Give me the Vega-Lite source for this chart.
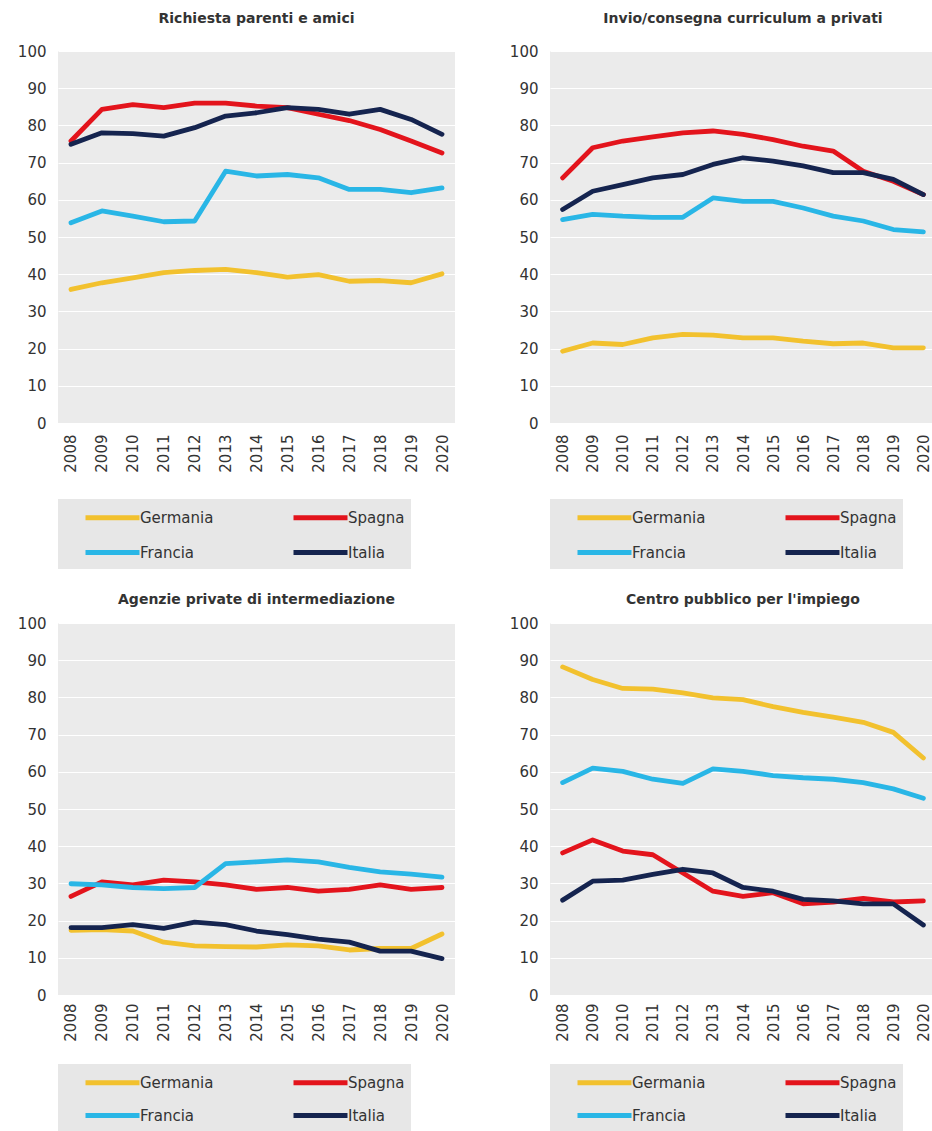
{
  "$schema": "https://vega.github.io/schema/vega-lite/v6.json",
  "background": "white",
  "padding": {"left": 17, "top": 12, "right": 0, "bottom": 0},
  "config": {
    "font": "DejaVu Sans",
    "view": {"fill": "#ebebeb", "stroke": null},
    "title": {"fontSize": 14, "fontWeight": "bold", "color": "#333333", "offset": 18, "font": "DejaVu Sans"},
    "axis": {"domain": false, "ticks": false, "gridColor": "#ffffff", "gridWidth": 1.2, "gridOpacity": 1, "labelColor": "#333333", "labelFont": "DejaVu Sans", "labelFontSize": 15},
    "legend": {
      "orient": "bottom", "direction": "horizontal", "columns": 2, "fillColor": "#e7e7e7", "padding": 6,
      "symbolType": "M-2.7,0H2.7", "symbolStrokeWidth": 5, "symbolSize": 400, "symbolOffset": 36,
      "labelFontSize": 15, "labelColor": "#333333", "labelOffset": 15, "columnPadding": 58, "rowPadding": 12,
      "offset": 26, "title": null, "labelFont": "DejaVu Sans", "labelLimit": 400,
      "labelExpr": "(datum.label === 'Spagna' || datum.label === 'Italia') ? datum.label + '\u00a0\u00a0\u00a0\u00a0\u00a0\u00a0\u00a0\u00a0\u00a0\u00a0\u200b' : datum.label"
    }
  },
  "spacing": 24,
  "datasets": {
    "d": [
      {"p": "A", "anno": "2008", "paese": "Germania", "v": 35.9},
      {"p": "A", "anno": "2009", "paese": "Germania", "v": 37.7},
      {"p": "A", "anno": "2010", "paese": "Germania", "v": 39.0},
      {"p": "A", "anno": "2011", "paese": "Germania", "v": 40.4},
      {"p": "A", "anno": "2012", "paese": "Germania", "v": 41.0},
      {"p": "A", "anno": "2013", "paese": "Germania", "v": 41.3},
      {"p": "A", "anno": "2014", "paese": "Germania", "v": 40.4},
      {"p": "A", "anno": "2015", "paese": "Germania", "v": 39.2},
      {"p": "A", "anno": "2016", "paese": "Germania", "v": 39.9},
      {"p": "A", "anno": "2017", "paese": "Germania", "v": 38.1},
      {"p": "A", "anno": "2018", "paese": "Germania", "v": 38.3},
      {"p": "A", "anno": "2019", "paese": "Germania", "v": 37.7},
      {"p": "A", "anno": "2020", "paese": "Germania", "v": 40.1},
      {"p": "A", "anno": "2008", "paese": "Spagna", "v": 75.8},
      {"p": "A", "anno": "2009", "paese": "Spagna", "v": 84.3},
      {"p": "A", "anno": "2010", "paese": "Spagna", "v": 85.6},
      {"p": "A", "anno": "2011", "paese": "Spagna", "v": 84.8},
      {"p": "A", "anno": "2012", "paese": "Spagna", "v": 86.0},
      {"p": "A", "anno": "2013", "paese": "Spagna", "v": 86.0},
      {"p": "A", "anno": "2014", "paese": "Spagna", "v": 85.2},
      {"p": "A", "anno": "2015", "paese": "Spagna", "v": 84.8},
      {"p": "A", "anno": "2016", "paese": "Spagna", "v": 83.0},
      {"p": "A", "anno": "2017", "paese": "Spagna", "v": 81.3},
      {"p": "A", "anno": "2018", "paese": "Spagna", "v": 78.9},
      {"p": "A", "anno": "2019", "paese": "Spagna", "v": 75.8},
      {"p": "A", "anno": "2020", "paese": "Spagna", "v": 72.6},
      {"p": "A", "anno": "2008", "paese": "Francia", "v": 53.8},
      {"p": "A", "anno": "2009", "paese": "Francia", "v": 57.0},
      {"p": "A", "anno": "2010", "paese": "Francia", "v": 55.6},
      {"p": "A", "anno": "2011", "paese": "Francia", "v": 54.1},
      {"p": "A", "anno": "2012", "paese": "Francia", "v": 54.3},
      {"p": "A", "anno": "2013", "paese": "Francia", "v": 67.7},
      {"p": "A", "anno": "2014", "paese": "Francia", "v": 66.4},
      {"p": "A", "anno": "2015", "paese": "Francia", "v": 66.8},
      {"p": "A", "anno": "2016", "paese": "Francia", "v": 65.9},
      {"p": "A", "anno": "2017", "paese": "Francia", "v": 62.8},
      {"p": "A", "anno": "2018", "paese": "Francia", "v": 62.8},
      {"p": "A", "anno": "2019", "paese": "Francia", "v": 61.9},
      {"p": "A", "anno": "2020", "paese": "Francia", "v": 63.2},
      {"p": "A", "anno": "2008", "paese": "Italia", "v": 74.9},
      {"p": "A", "anno": "2009", "paese": "Italia", "v": 78.0},
      {"p": "A", "anno": "2010", "paese": "Italia", "v": 77.8},
      {"p": "A", "anno": "2011", "paese": "Italia", "v": 77.1},
      {"p": "A", "anno": "2012", "paese": "Italia", "v": 79.4},
      {"p": "A", "anno": "2013", "paese": "Italia", "v": 82.5},
      {"p": "A", "anno": "2014", "paese": "Italia", "v": 83.4},
      {"p": "A", "anno": "2015", "paese": "Italia", "v": 84.8},
      {"p": "A", "anno": "2016", "paese": "Italia", "v": 84.3},
      {"p": "A", "anno": "2017", "paese": "Italia", "v": 83.0},
      {"p": "A", "anno": "2018", "paese": "Italia", "v": 84.3},
      {"p": "A", "anno": "2019", "paese": "Italia", "v": 81.6},
      {"p": "A", "anno": "2020", "paese": "Italia", "v": 77.6},

      {"p": "B", "anno": "2008", "paese": "Germania", "v": 19.3},
      {"p": "B", "anno": "2009", "paese": "Germania", "v": 21.5},
      {"p": "B", "anno": "2010", "paese": "Germania", "v": 21.1},
      {"p": "B", "anno": "2011", "paese": "Germania", "v": 22.9},
      {"p": "B", "anno": "2012", "paese": "Germania", "v": 23.8},
      {"p": "B", "anno": "2013", "paese": "Germania", "v": 23.6},
      {"p": "B", "anno": "2014", "paese": "Germania", "v": 22.9},
      {"p": "B", "anno": "2015", "paese": "Germania", "v": 22.9},
      {"p": "B", "anno": "2016", "paese": "Germania", "v": 22.0},
      {"p": "B", "anno": "2017", "paese": "Germania", "v": 21.3},
      {"p": "B", "anno": "2018", "paese": "Germania", "v": 21.5},
      {"p": "B", "anno": "2019", "paese": "Germania", "v": 20.2},
      {"p": "B", "anno": "2020", "paese": "Germania", "v": 20.2},
      {"p": "B", "anno": "2008", "paese": "Spagna", "v": 65.9},
      {"p": "B", "anno": "2009", "paese": "Spagna", "v": 74.0},
      {"p": "B", "anno": "2010", "paese": "Spagna", "v": 75.8},
      {"p": "B", "anno": "2011", "paese": "Spagna", "v": 76.9},
      {"p": "B", "anno": "2012", "paese": "Spagna", "v": 78.0},
      {"p": "B", "anno": "2013", "paese": "Spagna", "v": 78.5},
      {"p": "B", "anno": "2014", "paese": "Spagna", "v": 77.6},
      {"p": "B", "anno": "2015", "paese": "Spagna", "v": 76.2},
      {"p": "B", "anno": "2016", "paese": "Spagna", "v": 74.4},
      {"p": "B", "anno": "2017", "paese": "Spagna", "v": 73.1},
      {"p": "B", "anno": "2018", "paese": "Spagna", "v": 67.7},
      {"p": "B", "anno": "2019", "paese": "Spagna", "v": 65.0},
      {"p": "B", "anno": "2020", "paese": "Spagna", "v": 61.4},
      {"p": "B", "anno": "2008", "paese": "Francia", "v": 54.7},
      {"p": "B", "anno": "2009", "paese": "Francia", "v": 56.1},
      {"p": "B", "anno": "2010", "paese": "Francia", "v": 55.6},
      {"p": "B", "anno": "2011", "paese": "Francia", "v": 55.3},
      {"p": "B", "anno": "2012", "paese": "Francia", "v": 55.3},
      {"p": "B", "anno": "2013", "paese": "Francia", "v": 60.5},
      {"p": "B", "anno": "2014", "paese": "Francia", "v": 59.6},
      {"p": "B", "anno": "2015", "paese": "Francia", "v": 59.6},
      {"p": "B", "anno": "2016", "paese": "Francia", "v": 57.8},
      {"p": "B", "anno": "2017", "paese": "Francia", "v": 55.6},
      {"p": "B", "anno": "2018", "paese": "Francia", "v": 54.3},
      {"p": "B", "anno": "2019", "paese": "Francia", "v": 52.0},
      {"p": "B", "anno": "2020", "paese": "Francia", "v": 51.4},
      {"p": "B", "anno": "2008", "paese": "Italia", "v": 57.4},
      {"p": "B", "anno": "2009", "paese": "Italia", "v": 62.3},
      {"p": "B", "anno": "2010", "paese": "Italia", "v": 64.1},
      {"p": "B", "anno": "2011", "paese": "Italia", "v": 65.9},
      {"p": "B", "anno": "2012", "paese": "Italia", "v": 66.8},
      {"p": "B", "anno": "2013", "paese": "Italia", "v": 69.5},
      {"p": "B", "anno": "2014", "paese": "Italia", "v": 71.3},
      {"p": "B", "anno": "2015", "paese": "Italia", "v": 70.4},
      {"p": "B", "anno": "2016", "paese": "Italia", "v": 69.1},
      {"p": "B", "anno": "2017", "paese": "Italia", "v": 67.3},
      {"p": "B", "anno": "2018", "paese": "Italia", "v": 67.3},
      {"p": "B", "anno": "2019", "paese": "Italia", "v": 65.5},
      {"p": "B", "anno": "2020", "paese": "Italia", "v": 61.4},

      {"p": "C", "anno": "2008", "paese": "Germania", "v": 17.4},
      {"p": "C", "anno": "2009", "paese": "Germania", "v": 17.6},
      {"p": "C", "anno": "2010", "paese": "Germania", "v": 17.2},
      {"p": "C", "anno": "2011", "paese": "Germania", "v": 14.2},
      {"p": "C", "anno": "2012", "paese": "Germania", "v": 13.2},
      {"p": "C", "anno": "2013", "paese": "Germania", "v": 13.0},
      {"p": "C", "anno": "2014", "paese": "Germania", "v": 12.9},
      {"p": "C", "anno": "2015", "paese": "Germania", "v": 13.5},
      {"p": "C", "anno": "2016", "paese": "Germania", "v": 13.2},
      {"p": "C", "anno": "2017", "paese": "Germania", "v": 12.1},
      {"p": "C", "anno": "2018", "paese": "Germania", "v": 12.5},
      {"p": "C", "anno": "2019", "paese": "Germania", "v": 12.5},
      {"p": "C", "anno": "2020", "paese": "Germania", "v": 16.4},
      {"p": "C", "anno": "2008", "paese": "Spagna", "v": 26.5},
      {"p": "C", "anno": "2009", "paese": "Spagna", "v": 30.4},
      {"p": "C", "anno": "2010", "paese": "Spagna", "v": 29.6},
      {"p": "C", "anno": "2011", "paese": "Spagna", "v": 30.9},
      {"p": "C", "anno": "2012", "paese": "Spagna", "v": 30.4},
      {"p": "C", "anno": "2013", "paese": "Spagna", "v": 29.6},
      {"p": "C", "anno": "2014", "paese": "Spagna", "v": 28.4},
      {"p": "C", "anno": "2015", "paese": "Spagna", "v": 28.9},
      {"p": "C", "anno": "2016", "paese": "Spagna", "v": 27.9},
      {"p": "C", "anno": "2017", "paese": "Spagna", "v": 28.4},
      {"p": "C", "anno": "2018", "paese": "Spagna", "v": 29.6},
      {"p": "C", "anno": "2019", "paese": "Spagna", "v": 28.4},
      {"p": "C", "anno": "2020", "paese": "Spagna", "v": 28.9},
      {"p": "C", "anno": "2008", "paese": "Francia", "v": 29.9},
      {"p": "C", "anno": "2009", "paese": "Francia", "v": 29.6},
      {"p": "C", "anno": "2010", "paese": "Francia", "v": 28.9},
      {"p": "C", "anno": "2011", "paese": "Francia", "v": 28.6},
      {"p": "C", "anno": "2012", "paese": "Francia", "v": 28.9},
      {"p": "C", "anno": "2013", "paese": "Francia", "v": 35.3},
      {"p": "C", "anno": "2014", "paese": "Francia", "v": 35.8},
      {"p": "C", "anno": "2015", "paese": "Francia", "v": 36.3},
      {"p": "C", "anno": "2016", "paese": "Francia", "v": 35.8},
      {"p": "C", "anno": "2017", "paese": "Francia", "v": 34.3},
      {"p": "C", "anno": "2018", "paese": "Francia", "v": 33.1},
      {"p": "C", "anno": "2019", "paese": "Francia", "v": 32.5},
      {"p": "C", "anno": "2020", "paese": "Francia", "v": 31.7},
      {"p": "C", "anno": "2008", "paese": "Italia", "v": 18.1},
      {"p": "C", "anno": "2009", "paese": "Italia", "v": 18.1},
      {"p": "C", "anno": "2010", "paese": "Italia", "v": 18.9},
      {"p": "C", "anno": "2011", "paese": "Italia", "v": 17.9},
      {"p": "C", "anno": "2012", "paese": "Italia", "v": 19.6},
      {"p": "C", "anno": "2013", "paese": "Italia", "v": 18.9},
      {"p": "C", "anno": "2014", "paese": "Italia", "v": 17.2},
      {"p": "C", "anno": "2015", "paese": "Italia", "v": 16.2},
      {"p": "C", "anno": "2016", "paese": "Italia", "v": 15.0},
      {"p": "C", "anno": "2017", "paese": "Italia", "v": 14.2},
      {"p": "C", "anno": "2018", "paese": "Italia", "v": 11.8},
      {"p": "C", "anno": "2019", "paese": "Italia", "v": 11.8},
      {"p": "C", "anno": "2020", "paese": "Italia", "v": 9.8},

      {"p": "D", "anno": "2008", "paese": "Germania", "v": 88.2},
      {"p": "D", "anno": "2009", "paese": "Germania", "v": 84.8},
      {"p": "D", "anno": "2010", "paese": "Germania", "v": 82.4},
      {"p": "D", "anno": "2011", "paese": "Germania", "v": 82.2},
      {"p": "D", "anno": "2012", "paese": "Germania", "v": 81.2},
      {"p": "D", "anno": "2013", "paese": "Germania", "v": 79.9},
      {"p": "D", "anno": "2014", "paese": "Germania", "v": 79.4},
      {"p": "D", "anno": "2015", "paese": "Germania", "v": 77.5},
      {"p": "D", "anno": "2016", "paese": "Germania", "v": 76.0},
      {"p": "D", "anno": "2017", "paese": "Germania", "v": 74.7},
      {"p": "D", "anno": "2018", "paese": "Germania", "v": 73.3},
      {"p": "D", "anno": "2019", "paese": "Germania", "v": 70.6},
      {"p": "D", "anno": "2020", "paese": "Germania", "v": 63.7},
      {"p": "D", "anno": "2008", "paese": "Spagna", "v": 38.2},
      {"p": "D", "anno": "2009", "paese": "Spagna", "v": 41.7},
      {"p": "D", "anno": "2010", "paese": "Spagna", "v": 38.7},
      {"p": "D", "anno": "2011", "paese": "Spagna", "v": 37.7},
      {"p": "D", "anno": "2012", "paese": "Spagna", "v": 32.8},
      {"p": "D", "anno": "2013", "paese": "Spagna", "v": 27.9},
      {"p": "D", "anno": "2014", "paese": "Spagna", "v": 26.5},
      {"p": "D", "anno": "2015", "paese": "Spagna", "v": 27.5},
      {"p": "D", "anno": "2016", "paese": "Spagna", "v": 24.5},
      {"p": "D", "anno": "2017", "paese": "Spagna", "v": 25.0},
      {"p": "D", "anno": "2018", "paese": "Spagna", "v": 26.0},
      {"p": "D", "anno": "2019", "paese": "Spagna", "v": 25.0},
      {"p": "D", "anno": "2020", "paese": "Spagna", "v": 25.3},
      {"p": "D", "anno": "2008", "paese": "Francia", "v": 57.1},
      {"p": "D", "anno": "2009", "paese": "Francia", "v": 61.0},
      {"p": "D", "anno": "2010", "paese": "Francia", "v": 60.1},
      {"p": "D", "anno": "2011", "paese": "Francia", "v": 58.0},
      {"p": "D", "anno": "2012", "paese": "Francia", "v": 56.9},
      {"p": "D", "anno": "2013", "paese": "Francia", "v": 60.8},
      {"p": "D", "anno": "2014", "paese": "Francia", "v": 60.1},
      {"p": "D", "anno": "2015", "paese": "Francia", "v": 59.0},
      {"p": "D", "anno": "2016", "paese": "Francia", "v": 58.4},
      {"p": "D", "anno": "2017", "paese": "Francia", "v": 58.0},
      {"p": "D", "anno": "2018", "paese": "Francia", "v": 57.1},
      {"p": "D", "anno": "2019", "paese": "Francia", "v": 55.4},
      {"p": "D", "anno": "2020", "paese": "Francia", "v": 52.9},
      {"p": "D", "anno": "2008", "paese": "Italia", "v": 25.5},
      {"p": "D", "anno": "2009", "paese": "Italia", "v": 30.6},
      {"p": "D", "anno": "2010", "paese": "Italia", "v": 30.9},
      {"p": "D", "anno": "2011", "paese": "Italia", "v": 32.4},
      {"p": "D", "anno": "2012", "paese": "Italia", "v": 33.8},
      {"p": "D", "anno": "2013", "paese": "Italia", "v": 32.8},
      {"p": "D", "anno": "2014", "paese": "Italia", "v": 28.9},
      {"p": "D", "anno": "2015", "paese": "Italia", "v": 27.9},
      {"p": "D", "anno": "2016", "paese": "Italia", "v": 25.7},
      {"p": "D", "anno": "2017", "paese": "Italia", "v": 25.3},
      {"p": "D", "anno": "2018", "paese": "Italia", "v": 24.5},
      {"p": "D", "anno": "2019", "paese": "Italia", "v": 24.5},
      {"p": "D", "anno": "2020", "paese": "Italia", "v": 18.8}
    ]
  },
  "vconcat": [
    {
      "spacing": 54,
      "hconcat": [
        {
          "title": "Richiesta parenti e amici",
          "width": 397, "height": 372,
          "data": {"name": "d"},
          "transform": [{"filter": "datum.p === 'A'"}],
          "mark": {"type": "line", "strokeWidth": 4.8, "strokeCap": "round", "strokeJoin": "round"},
          "encoding": {
            "x": {"field": "anno", "type": "ordinal", "scale": {"type": "point", "padding": 0.42}, "axis": {"title": null, "labelAngle": -90, "labelPadding": 11}},
            "y": {"field": "v", "type": "quantitative", "scale": {"domain": [0, 100]}, "axis": {"title": null, "values": [0,10,20,30,40,50,60,70,80,90,100], "labelPadding": 12}},
            "color": {"field": "paese", "type": "nominal", "scale": {"domain": ["Germania", "Spagna", "Francia", "Italia"], "range": ["#f2c12e", "#e3141c", "#29b6e6", "#15244f"]}}
          }
        },
        {
          "title": "Invio/consegna curriculum a privati",
          "width": 386, "height": 372,
          "data": {"name": "d"},
          "transform": [{"filter": "datum.p === 'B'"}],
          "mark": {"type": "line", "strokeWidth": 4.8, "strokeCap": "round", "strokeJoin": "round"},
          "encoding": {
            "x": {"field": "anno", "type": "ordinal", "scale": {"type": "point", "padding": 0.42}, "axis": {"title": null, "labelAngle": -90, "labelPadding": 11}},
            "y": {"field": "v", "type": "quantitative", "scale": {"domain": [0, 100]}, "axis": {"title": null, "values": [0,10,20,30,40,50,60,70,80,90,100], "labelPadding": 12}},
            "color": {"field": "paese", "type": "nominal", "scale": {"domain": ["Germania", "Spagna", "Francia", "Italia"], "range": ["#f2c12e", "#e3141c", "#29b6e6", "#15244f"]}}
          }
        }
      ],
      "resolve": {"scale": {"color": "independent"}, "legend": {"color": "independent"}}
    },
    {
      "spacing": 54,
      "hconcat": [
        {
          "title": {"text": "Agenzie private di intermediazione", "offset": 9},
          "width": 397, "height": 372,
          "data": {"name": "d"},
          "transform": [{"filter": "datum.p === 'C'"}],
          "mark": {"type": "line", "strokeWidth": 4.8, "strokeCap": "round", "strokeJoin": "round"},
          "encoding": {
            "x": {"field": "anno", "type": "ordinal", "scale": {"type": "point", "padding": 0.42}, "axis": {"title": null, "labelAngle": -90, "labelPadding": 8}},
            "y": {"field": "v", "type": "quantitative", "scale": {"domain": [0, 100]}, "axis": {"title": null, "values": [0,10,20,30,40,50,60,70,80,90,100], "labelPadding": 12}},
            "color": {"field": "paese", "type": "nominal", "scale": {"domain": ["Germania", "Spagna", "Francia", "Italia"], "range": ["#f2c12e", "#e3141c", "#29b6e6", "#15244f"]}, "legend": {"rowPadding": 10, "offset": 22}}
          }
        },
        {
          "title": {"text": "Centro pubblico per l'impiego", "offset": 9},
          "width": 386, "height": 372,
          "data": {"name": "d"},
          "transform": [{"filter": "datum.p === 'D'"}],
          "mark": {"type": "line", "strokeWidth": 4.8, "strokeCap": "round", "strokeJoin": "round"},
          "encoding": {
            "x": {"field": "anno", "type": "ordinal", "scale": {"type": "point", "padding": 0.42}, "axis": {"title": null, "labelAngle": -90, "labelPadding": 8}},
            "y": {"field": "v", "type": "quantitative", "scale": {"domain": [0, 100]}, "axis": {"title": null, "values": [0,10,20,30,40,50,60,70,80,90,100], "labelPadding": 12}},
            "color": {"field": "paese", "type": "nominal", "scale": {"domain": ["Germania", "Spagna", "Francia", "Italia"], "range": ["#f2c12e", "#e3141c", "#29b6e6", "#15244f"]}, "legend": {"rowPadding": 10, "offset": 22}}
          }
        }
      ],
      "resolve": {"scale": {"color": "independent"}, "legend": {"color": "independent"}}
    }
  ],
  "resolve": {"scale": {"color": "independent"}, "legend": {"color": "independent"}}
}
